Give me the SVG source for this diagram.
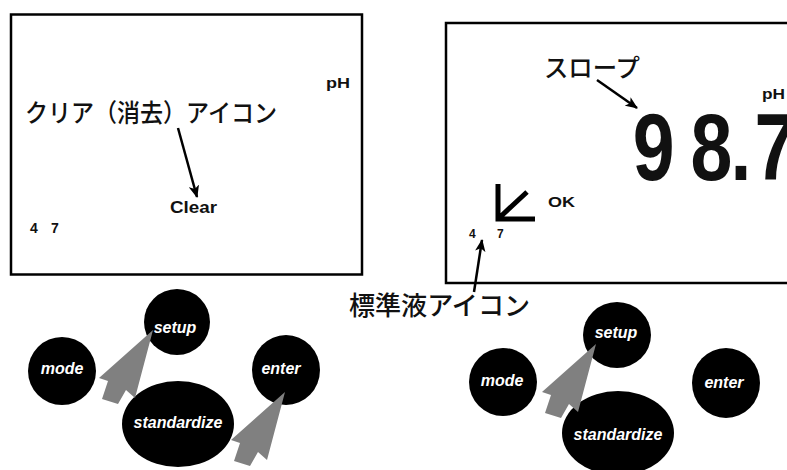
<svg xmlns="http://www.w3.org/2000/svg" width="787" height="470" viewBox="0 0 787 470">
<style>
.box{fill:none;stroke:#000;stroke-width:2.5}
.jp{font-family:"Noto Sans CJK JP","Noto Sans",sans-serif;font-weight:500;fill:#111}
.lcd{font-family:"Liberation Sans",Arial,sans-serif;font-weight:bold;fill:#111}
.btn{fill:#000}
.btxt{font-family:"Liberation Sans",Arial,sans-serif;font-weight:bold;font-style:italic;font-size:16px;fill:#fff;text-anchor:middle}
.ptr{fill:#808080}
.conn{stroke:#000;stroke-width:2.5;fill:none;marker-end:url(#ah)}
</style>
<defs>
<marker id="ah" viewBox="0 0 12 10" refX="11" refY="5" markerWidth="5" markerHeight="4.5" orient="auto" markerUnits="strokeWidth">
<path d="M0,0 L12,5 L0,10 L3,5 z" fill="#000"/>
</marker>
<path id="cursor" d="M0,0 L-54,48 L-45,51 L-51,69 L-35,74 L-27,60 L-18,68 Z"/>
</defs>
<rect width="787" height="470" fill="#fff"/>

<g id="left-display">
<rect class="box" x="11" y="14.5" width="351" height="260"/>
<text class="lcd" x="326" y="88" font-size="14" textLength="24" lengthAdjust="spacingAndGlyphs">pH</text>
<text class="lcd" x="170" y="213" font-size="17" textLength="47" lengthAdjust="spacingAndGlyphs">Clear</text>
<text class="lcd" x="30" y="233" font-size="14">4</text>
<text class="lcd" x="51" y="233" font-size="14">7</text>
</g>
<g id="label-clear">
<text class="jp" x="25" y="122" font-size="25" textLength="252" lengthAdjust="spacingAndGlyphs">クリア（消去）アイコン</text>
</g>

<g id="right-display">
<rect class="box" x="446" y="23" width="360" height="260"/>
<text class="lcd" x="762" y="99" font-size="14" textLength="23" lengthAdjust="spacingAndGlyphs">pH</text>
<text class="lcd" transform="translate(636,180) scale(0.8,1)" font-size="94" x="-4 68 118 148">98.7</text>
<path d="M498,184 V219 H535 M499,218 L527,192" stroke="#000" stroke-width="5" fill="none"/>
<text class="lcd" x="548" y="207" font-size="15" textLength="27" lengthAdjust="spacingAndGlyphs">OK</text>
<text class="lcd" x="469" y="238" font-size="12">4</text>
<text class="lcd" x="497" y="238" font-size="12">7</text>
</g>
<g id="label-slope">
<text class="jp" x="544" y="77" font-size="25" textLength="96" lengthAdjust="spacingAndGlyphs">スロープ</text>
</g>
<g id="label-standard">
<text class="jp" x="349" y="315" font-size="26" textLength="181" lengthAdjust="spacingAndGlyphs">標準液アイコン</text>
</g>

<g id="connectors">
<line class="conn" x1="178" y1="128" x2="197" y2="197"/>
<line class="conn" x1="597" y1="80" x2="637" y2="108"/>
<line class="conn" x1="474" y1="292" x2="482" y2="240"/>
</g>

<g id="left-mode"><ellipse class="btn" cx="62" cy="371" rx="34" ry="34"/><text class="btxt" x="62" y="374">mode</text></g>
<g id="left-setup"><ellipse class="btn" cx="177" cy="322" rx="33" ry="33"/><text class="btxt" x="175" y="333">setup</text></g>
<g id="left-standardize"><ellipse class="btn" cx="178" cy="424" rx="56" ry="43"/><text class="btxt" x="178" y="428">standardize</text></g>
<g id="left-enter"><ellipse class="btn" cx="286" cy="370" rx="34" ry="35"/><text class="btxt" x="281" y="374" font-size="14">enter</text></g>

<g id="right-mode"><ellipse class="btn" cx="503" cy="382" rx="34" ry="34"/><text class="btxt" x="502" y="386">mode</text></g>
<g id="right-setup"><ellipse class="btn" cx="617" cy="335" rx="34" ry="33"/><text class="btxt" x="616" y="338">setup</text></g>
<g id="right-standardize"><ellipse class="btn" cx="618" cy="433" rx="56" ry="42"/><text class="btxt" x="618" y="440">standardize</text></g>
<g id="right-enter"><ellipse class="btn" cx="726" cy="383" rx="34" ry="35"/><text class="btxt" x="724" y="388">enter</text></g>

<g id="pointers">
<use class="ptr" href="#cursor" transform="translate(153,330)"/>
<use class="ptr" href="#cursor" transform="translate(285,392)"/>
<use class="ptr" href="#cursor" transform="translate(596,344)"/>
</g>
</svg>
